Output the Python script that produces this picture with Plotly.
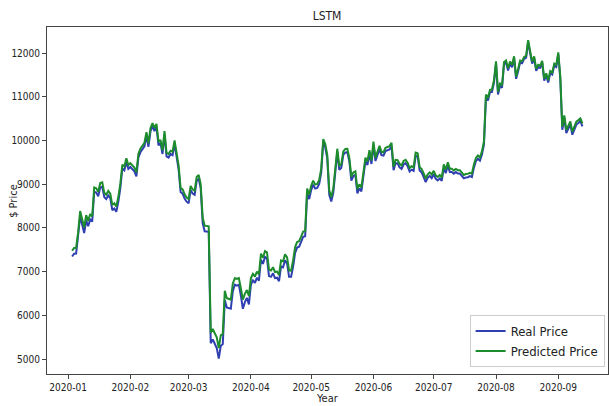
import pandas as pd
import plotly.graph_objects as go

# Daily closing price (USD), 2020-01-03 .. 2020-09-13
real_jan = [7344, 7410, 7411, 7769, 8260, 8079, 7879, 8166, 8037, 8192, 8144, 8827, 8807, 8723,
            8929, 8942, 8706, 8657, 8745, 8680, 8406, 8445, 8367, 8596, 8910, 9358, 9316, 9508, 9350]
real_feb = [9392, 9344, 9293, 9180, 9613, 9729, 9795, 9865, 10116, 9856, 10208, 10326, 10214, 10312,
            9889, 9934, 9690, 10141, 9633, 9608, 9686, 9663, 9924, 9650, 9341, 8820, 8784, 8672, 8599]
real_mar = [8562, 8869, 8787, 8755, 9078, 9122, 8909, 8108, 7923, 7909, 7911, 5360, 5450, 5350,
            5250, 5010, 5300, 5340, 6350, 6180, 6170, 6150, 6550, 6700, 6680, 6700, 6450, 6150,
            6300, 6400, 6250]
real_apr = [6700, 6800, 6740, 6860, 6790, 7271, 7176, 7335, 7302, 6900, 6880, 6960, 6850, 6860,
            6780, 7116, 7096, 7257, 7189, 6881, 6880, 7117, 7429, 7550, 7569, 7679, 7795, 7807,
            8801, 8658]
real_may = [8864, 8988, 8897, 8912, 9003, 9268, 9951, 9842, 9593, 8756, 8601, 8804, 9269, 9733,
            9328, 9377, 9670, 9726, 9729, 9522, 9081, 9182, 9210, 8790, 8906, 8835, 9181, 9525,
            9439, 9700, 9461]
real_jun = [9900, 9529, 9656, 9800, 9665, 9653, 9758, 9771, 9795, 9870, 9321, 9480, 9475, 9386,
            9350, 9450, 9480, 9411, 9288, 9332, 9303, 9648, 9629, 9313, 9264, 9162, 9045, 9143,
            9190, 9137]
real_jul = [9228, 9123, 9087, 9132, 9073, 9375, 9252, 9428, 9277, 9278, 9240, 9276, 9243, 9243,
            9192, 9132, 9151, 9159, 9185, 9164, 9374, 9525, 9581, 9536, 9677, 9905, 10990, 10912,
            11100, 11111, 11323]
real_aug = [11759, 11053, 11246, 11205, 11747, 11779, 11601, 11754, 11675, 11878, 11410, 11584,
            11784, 11768, 11865, 11892, 12254, 11991, 11758, 11878, 11592, 11681, 11664, 11774,
            11366, 11488, 11323, 11542, 11506, 11711, 11680]
real_sep = [11970, 11414, 10245, 10511, 10169, 10280, 10370, 10131, 10243, 10363, 10400, 10442, 10323]

# LSTM model output for the same days
pred_jan = [7476, 7540, 7545, 7895, 8385, 8205, 8010, 8290, 8160, 8315, 8265, 8925, 8905, 8825,
            9025, 9040, 8805, 8760, 8845, 8785, 8525, 8565, 8490, 8705, 9010, 9445, 9405, 9590, 9440]
pred_feb = [9480, 9430, 9380, 9270, 9695, 9810, 9875, 9945, 10190, 9935, 10280, 10395, 10285, 10380,
            9965, 10010, 9770, 10215, 9715, 9690, 9765, 9745, 10000, 9730, 9430, 8915, 8880, 8770, 8695]
pred_mar = [8660, 8960, 8880, 8850, 9165, 9210, 9000, 8230, 8050, 8035, 8035, 5600, 5690, 5590,
            5495, 5250, 5540, 5575, 6560, 6390, 6380, 6360, 6730, 6850, 6835, 6850, 6620, 6360,
            6490, 6580, 6440]
pred_apr = [6850, 6945, 6885, 7000, 6935, 7410, 7315, 7470, 7440, 7045, 7025, 7100, 6990, 7000,
            6925, 7255, 7235, 7395, 7325, 7025, 7020, 7255, 7560, 7675, 7695, 7800, 7915, 7925,
            8900, 8760]
pred_may = [8960, 9080, 8990, 9005, 9095, 9355, 10030, 9920, 9675, 8855, 8700, 8900, 9355, 9810,
            9415, 9460, 9750, 9805, 9810, 9600, 9170, 9270, 9295, 8885, 8995, 8925, 9265, 9605,
            9520, 9775, 9540]
pred_jun = [9975, 9605, 9730, 9875, 9740, 9730, 9830, 9845, 9870, 9945, 9400, 9555, 9550, 9465,
            9430, 9530, 9555, 9490, 9370, 9410, 9385, 9720, 9705, 9390, 9345, 9245, 9130, 9225,
            9270, 9220]
pred_jul = [9305, 9200, 9165, 9210, 9150, 9450, 9330, 9500, 9355, 9355, 9315, 9350, 9320, 9320,
            9270, 9210, 9230, 9235, 9260, 9240, 9450, 9600, 9655, 9610, 9750, 9975, 11050, 10970,
            11155, 11165, 11375]
pred_aug = [11810, 11110, 11300, 11260, 11795, 11830, 11650, 11805, 11725, 11925, 11460, 11635,
            11830, 11815, 11910, 11940, 12295, 12040, 11805, 11925, 11640, 11730, 11710, 11820,
            11415, 11535, 11375, 11590, 11555, 11760, 11730]
pred_sep = [12015, 11465, 10310, 10575, 10235, 10345, 10435, 10200, 10310, 10430, 10465, 10505, 10390]

real_price = (real_jan + real_feb + real_mar + real_apr + real_may + real_jun
              + real_jul + real_aug + real_sep)
pred_price = (pred_jan + pred_feb + pred_mar + pred_apr + pred_may + pred_jun
              + pred_jul + pred_aug + pred_sep)
dates = pd.date_range("2020-01-03", periods=len(real_price), freq="D")

tick_vals = ["2020-01-01", "2020-02-01", "2020-03-01", "2020-04-01", "2020-05-01",
             "2020-06-01", "2020-07-01", "2020-08-01", "2020-09-01"]
tick_text = ["2020-01", "2020-02", "2020-03", "2020-04", "2020-05",
             "2020-06", "2020-07", "2020-08", "2020-09"]
y_ticks = [5000, 6000, 7000, 8000, 9000, 10000, 11000, 12000]
y_tick_text = ["5000", "6000", "7000", "8000", "9000", "10000", "11000", "12000"]

FONT = "Liberation Sans Narrow, DejaVu Sans Condensed, Roboto Condensed, Liberation Sans, sans-serif"

fig = go.Figure()
fig.add_trace(go.Scatter(x=dates, y=real_price, mode="lines", name="Real Price",
                         line=dict(color="#2f3fb2", width=2)))
fig.add_trace(go.Scatter(x=dates, y=pred_price, mode="lines", name="Predicted Price",
                         line=dict(color="#1c8c2c", width=2)))

axis_common = dict(showline=True, linecolor="#444", linewidth=1, mirror=True,
                   ticks="outside", ticklen=4, tickcolor="#444", showgrid=False,
                   zeroline=False, tickfont=dict(family=FONT, size=10, color="#222"))

fig.update_layout(
    width=609, height=406,
    margin=dict(l=47, r=1, t=27, b=32),
    paper_bgcolor="white", plot_bgcolor="white",
    font=dict(family=FONT, color="#222"),
    title=dict(text="LSTM", x=0.537, xanchor="center", y=0.962, yanchor="middle",
               font=dict(family=FONT, size=12, color="#222")),
    xaxis=dict(type="date", range=["2019-12-21 12:00", "2020-09-25 18:00"],
               tickvals=tick_vals, ticktext=tick_text, **axis_common),
    yaxis=dict(range=[4657, 12595], tickvals=y_ticks, ticktext=y_tick_text, **axis_common),
    legend=dict(x=0.994, y=0.02, xanchor="right", yanchor="bottom",
                bgcolor="white", bordercolor="#cccccc", borderwidth=1,
                font=dict(family=FONT, size=13, color="#222"),
                itemwidth=30, tracegroupgap=0),
    showlegend=True,
)

fig.add_annotation(text="Year", xref="paper", yref="paper", x=0.5, y=-0.072,
                   xanchor="center", yanchor="middle", showarrow=False,
                   font=dict(family=FONT, size=11, color="#222"))
fig.add_annotation(text="$ Price", xref="paper", yref="paper", x=-0.06, y=0.5,
                   textangle=-90, xanchor="center", yanchor="middle", showarrow=False,
                   font=dict(family=FONT, size=11, color="#222"))

fig.write_html("out.html")
